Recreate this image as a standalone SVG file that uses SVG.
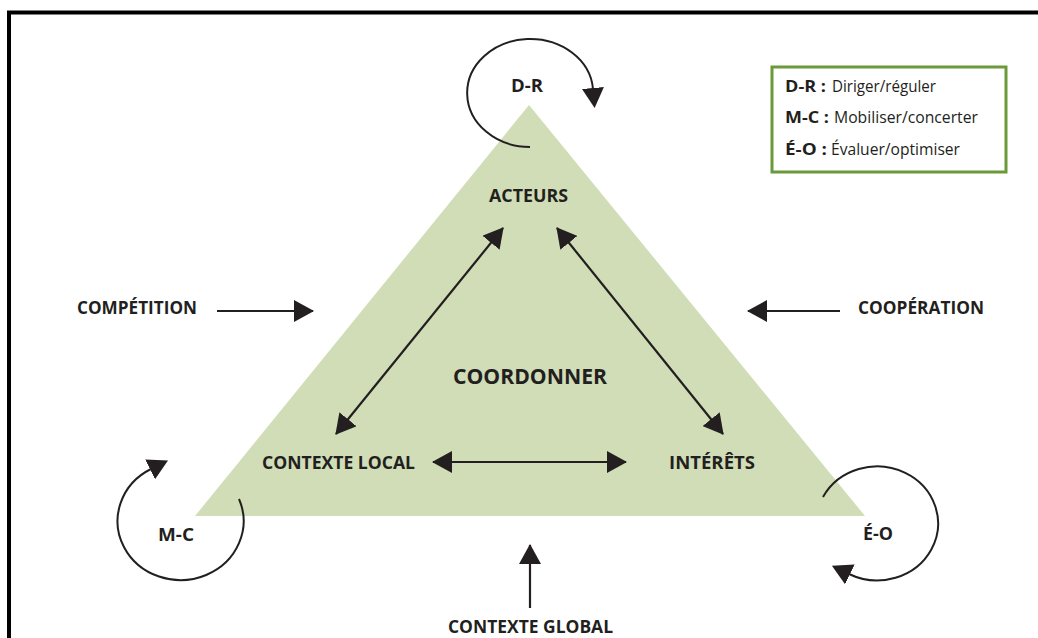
<svg xmlns="http://www.w3.org/2000/svg" width="1038" height="638" viewBox="0 0 1038 638">
<style>
.lbl{font-family:"Open Sans","Liberation Sans",sans-serif;font-weight:700;font-size:17.5px;fill:#231f20}
.big{font-size:22px}
.leg{font-family:"Open Sans","Liberation Sans",sans-serif;font-size:15.5px;fill:#231f20}
.legb{font-weight:700}
.ln{stroke:#231f20;stroke-width:2.2;fill:none}
.loop{stroke:#231f20;stroke-width:2;fill:none}
</style>
<defs>
<marker id="ah" viewBox="0 0 20 22" refX="19" refY="11" markerWidth="20" markerHeight="22" markerUnits="userSpaceOnUse" orient="auto-start-reverse">
<path d="M0,0 L20,11 L0,22 z" fill="#231f20"/>
</marker>
<marker id="lh" viewBox="0 0 20 22" refX="1" refY="11" markerWidth="20" markerHeight="22" markerUnits="userSpaceOnUse" orient="auto">
<path d="M0,0 L20,11 L0,22 z" fill="#231f20"/>
</marker>
</defs>
<rect x="0" y="0" width="1038" height="638" fill="#ffffff"/>
<rect x="9" y="12.5" width="1060" height="660" fill="none" stroke="#000" stroke-width="4"/>
<g id="triangle">
<polygon points="529,105 195,516 865,516" fill="#d0ddb6"/>
</g>
<g id="connectors">
<line class="ln" x1="503" y1="228" x2="336" y2="434" marker-start="url(#ah)" marker-end="url(#ah)"/>
<line class="ln" x1="557" y1="228" x2="723" y2="434" marker-start="url(#ah)" marker-end="url(#ah)"/>
<line class="ln" x1="433" y1="462" x2="626" y2="462" marker-start="url(#ah)" marker-end="url(#ah)"/>
<line class="ln" x1="217" y1="311" x2="313" y2="311" marker-end="url(#ah)"/>
<line class="ln" x1="840" y1="311" x2="748" y2="311" marker-end="url(#ah)"/>
<line class="ln" x1="530" y1="608" x2="530" y2="545" marker-end="url(#ah)"/>
<path class="loop" d="M 530 147 A 63 54 0 1 1 593 89" marker-end="url(#lh)"/>
<path class="loop" d="M 239 499 A 63 59 0 1 1 151 469" marker-end="url(#lh)"/>
<path class="loop" d="M 823 497 A 61 57 0 1 1 849 574" marker-end="url(#lh)"/>
</g>
<g id="node-dr"><text class="lbl" x="511" y="92" textLength="32" lengthAdjust="spacingAndGlyphs">D-R</text></g>
<g id="node-acteurs"><text class="lbl" x="489" y="202" textLength="79" lengthAdjust="spacingAndGlyphs">ACTEURS</text></g>
<g id="node-competition"><text class="lbl" x="77" y="314" textLength="120" lengthAdjust="spacingAndGlyphs">COMPÉTITION</text></g>
<g id="node-cooperation"><text class="lbl" x="858" y="314" textLength="126" lengthAdjust="spacingAndGlyphs">COOPÉRATION</text></g>
<g id="node-coordonner"><text class="lbl big" x="453" y="384" textLength="154" lengthAdjust="spacingAndGlyphs">COORDONNER</text></g>
<g id="node-contexte-local"><text class="lbl" x="262" y="469" textLength="153" lengthAdjust="spacingAndGlyphs">CONTEXTE LOCAL</text></g>
<g id="node-interets"><text class="lbl" x="669" y="469" textLength="86" lengthAdjust="spacingAndGlyphs">INTÉRÊTS</text></g>
<g id="node-mc"><text class="lbl" x="158" y="541" textLength="36" lengthAdjust="spacingAndGlyphs">M-C</text></g>
<g id="node-eo"><text class="lbl" x="863" y="540" textLength="30" lengthAdjust="spacingAndGlyphs">É-O</text></g>
<g id="node-contexte-global"><text class="lbl" x="448" y="633" textLength="165" lengthAdjust="spacingAndGlyphs">CONTEXTE GLOBAL</text></g>
<g id="legend">
<rect x="772" y="67" width="234" height="105" fill="#fff" stroke="#6b9a3b" stroke-width="3"/>
<text class="leg legb" x="785" y="92" textLength="41" lengthAdjust="spacingAndGlyphs">D-R :</text>
<text class="leg" x="832" y="92" textLength="104" lengthAdjust="spacingAndGlyphs">Diriger/réguler</text>
<text class="leg legb" x="785" y="123" textLength="44" lengthAdjust="spacingAndGlyphs">M-C :</text>
<text class="leg" x="834" y="123" textLength="144" lengthAdjust="spacingAndGlyphs">Mobiliser/concerter</text>
<text class="leg legb" x="785" y="155" textLength="42" lengthAdjust="spacingAndGlyphs">É-O :</text>
<text class="leg" x="831" y="155" textLength="129" lengthAdjust="spacingAndGlyphs">Évaluer/optimiser</text>
</g>
</svg>
